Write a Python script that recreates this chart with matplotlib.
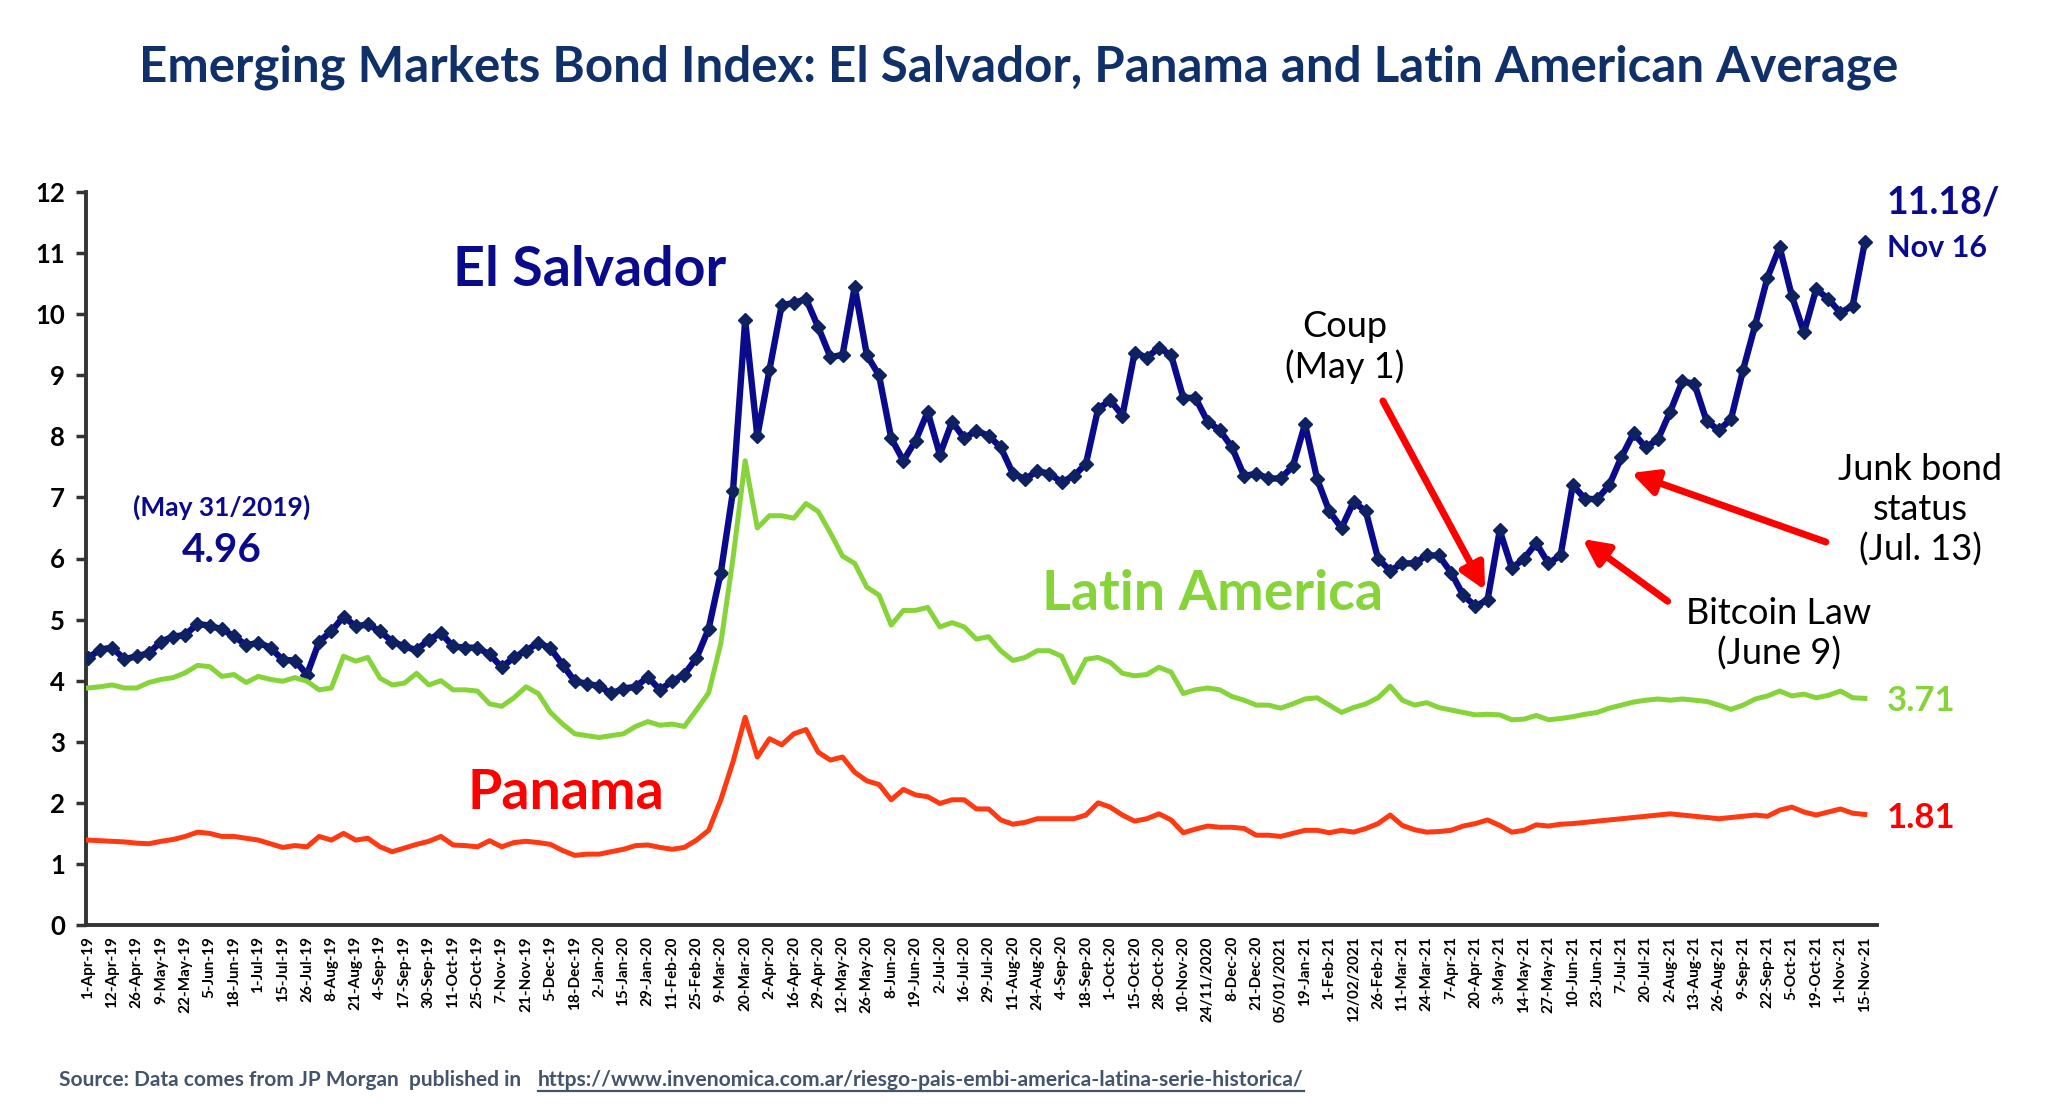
import numpy as np
import matplotlib
matplotlib.use("Agg")
import matplotlib.pyplot as plt

tick_labels = [
    "1-Apr-19", "12-Apr-19", "26-Apr-19", "9-May-19", "22-May-19", "5-Jun-19", "18-Jun-19",
    "1-Jul-19", "15-Jul-19", "26-Jul-19", "8-Aug-19", "21-Aug-19", "4-Sep-19", "17-Sep-19",
    "30-Sep-19", "11-Oct-19", "25-Oct-19", "7-Nov-19", "21-Nov-19", "5-Dec-19", "18-Dec-19",
    "2-Jan-20", "15-Jan-20", "29-Jan-20", "11-Feb-20", "25-Feb-20", "9-Mar-20", "20-Mar-20",
    "2-Apr-20", "16-Apr-20", "29-Apr-20", "12-May-20", "26-May-20", "8-Jun-20", "19-Jun-20",
    "2-Jul-20", "16-Jul-20", "29-Jul-20", "11-Aug-20", "24-Aug-20", "4-Sep-20", "18-Sep-20",
    "1-Oct-20", "15-Oct-20", "28-Oct-20", "10-Nov-20", "24/11/2020", "8-Dec-20", "21-Dec-20",
    "05/01/2021", "19-Jan-21", "1-Feb-21", "12/02/2021", "26-Feb-21", "11-Mar-21", "24-Mar-21",
    "7-Apr-21", "20-Apr-21", "3-May-21", "14-May-21", "27-May-21", "10-Jun-21", "23-Jun-21",
    "7-Jul-21", "20-Jul-21", "2-Aug-21", "13-Aug-21", "26-Aug-21", "9-Sep-21", "22-Sep-21",
    "5-Oct-21", "19-Oct-21", "1-Nov-21", "15-Nov-21",
]

el_salvador = [
    4.37, 4.51, 4.54, 4.35, 4.40, 4.45, 4.64, 4.72, 4.75, 4.93,
    4.90, 4.84, 4.73, 4.58, 4.62, 4.54, 4.34, 4.33, 4.10, 4.64,
    4.81, 5.05, 4.89, 4.92, 4.81, 4.64, 4.56, 4.50, 4.67, 4.78,
    4.56, 4.54, 4.54, 4.43, 4.22, 4.38, 4.49, 4.62, 4.53, 4.26,
    3.99, 3.95, 3.91, 3.79, 3.87, 3.90, 4.06, 3.85, 3.99, 4.10,
    4.37, 4.85, 5.77, 7.10, 9.90, 8.00, 9.09, 10.15, 10.18, 10.25,
    9.79, 9.30, 9.33, 10.45, 9.33, 9.00, 7.97, 7.60, 7.93, 8.40,
    7.70, 8.24, 7.97, 8.09, 8.01, 7.82, 7.39, 7.30, 7.43, 7.39,
    7.25, 7.35, 7.55, 8.45, 8.59, 8.34, 9.37, 9.29, 9.45, 9.33,
    8.63, 8.63, 8.24, 8.10, 7.82, 7.35, 7.39, 7.31, 7.31, 7.51,
    8.20, 7.30, 6.77, 6.50, 6.93, 6.77, 6.00, 5.80, 5.92, 5.92,
    6.05, 6.05, 5.77, 5.40, 5.22, 5.32, 6.46, 5.84, 6.00, 6.25,
    5.92, 6.05, 7.20, 6.98, 6.97, 7.20, 7.66, 8.05, 7.82, 7.95,
    8.40, 8.90, 8.86, 8.25, 8.10, 8.28, 9.09, 9.83, 10.60, 11.10,
    10.30, 9.70, 10.41, 10.25, 10.02, 10.14, 11.18,
]

latin_america = [
    3.88, 3.90, 3.93, 3.88, 3.88, 3.97, 4.02, 4.05, 4.13, 4.25,
    4.23, 4.07, 4.10, 3.97, 4.07, 4.02, 3.99, 4.05, 3.99, 3.85,
    3.88, 4.40, 4.32, 4.38, 4.04, 3.93, 3.96, 4.12, 3.93, 4.00,
    3.85, 3.85, 3.83, 3.62, 3.58, 3.72, 3.90, 3.79, 3.48, 3.29,
    3.13, 3.10, 3.07, 3.10, 3.13, 3.25, 3.33, 3.27, 3.29, 3.25,
    3.52, 3.80, 4.61, 6.00, 7.60, 6.50, 6.70, 6.70, 6.66, 6.90,
    6.77, 6.42, 6.04, 5.92, 5.53, 5.40, 4.91, 5.15, 5.15, 5.20,
    4.88, 4.95, 4.88, 4.68, 4.72, 4.49, 4.33, 4.38, 4.49, 4.49,
    4.40, 3.97, 4.35, 4.38, 4.30, 4.12, 4.08, 4.10, 4.22, 4.14,
    3.79, 3.85, 3.88, 3.85, 3.74, 3.68, 3.60, 3.60, 3.55, 3.62,
    3.70, 3.72, 3.60, 3.48, 3.56, 3.62, 3.72, 3.91, 3.68, 3.60,
    3.64, 3.56, 3.52, 3.48, 3.44, 3.45, 3.44, 3.36, 3.37, 3.43,
    3.36, 3.38, 3.41, 3.45, 3.48, 3.55, 3.60, 3.65, 3.68, 3.70,
    3.68, 3.70, 3.68, 3.66, 3.60, 3.53, 3.60, 3.70, 3.75, 3.83,
    3.75, 3.78, 3.72, 3.76, 3.83, 3.72, 3.71,
]

panama = [
    1.39, 1.38, 1.37, 1.36, 1.34, 1.33, 1.37, 1.40, 1.45, 1.52,
    1.50, 1.45, 1.45, 1.42, 1.39, 1.33, 1.27, 1.30, 1.28, 1.45,
    1.39, 1.50, 1.39, 1.42, 1.28, 1.20, 1.26, 1.32, 1.37, 1.45,
    1.31, 1.30, 1.28, 1.38, 1.28, 1.35, 1.37, 1.35, 1.32, 1.22,
    1.14, 1.16, 1.16, 1.20, 1.24, 1.30, 1.31, 1.27, 1.24, 1.27,
    1.39, 1.55, 2.05, 2.67, 3.40, 2.75, 3.05, 2.95, 3.13, 3.20,
    2.83, 2.70, 2.75, 2.50, 2.36, 2.30, 2.05, 2.22, 2.13, 2.10,
    1.99, 2.05, 2.05, 1.90, 1.90, 1.72, 1.65, 1.68, 1.74, 1.74,
    1.74, 1.74, 1.80, 2.00, 1.93, 1.80, 1.70, 1.74, 1.82, 1.72,
    1.51, 1.57, 1.62, 1.60, 1.60, 1.58, 1.47, 1.47, 1.45, 1.50,
    1.55, 1.55, 1.51, 1.55, 1.52, 1.58, 1.66, 1.80, 1.63, 1.56,
    1.52, 1.53, 1.55, 1.62, 1.66, 1.72, 1.63, 1.52, 1.55, 1.64,
    1.62, 1.65, 1.66, 1.68, 1.70, 1.72, 1.74, 1.76, 1.78, 1.80,
    1.82, 1.80, 1.78, 1.76, 1.74, 1.76, 1.78, 1.80, 1.78, 1.88,
    1.93, 1.85, 1.80, 1.85, 1.90, 1.83, 1.81,
]

y_ticks = list(range(0, 13))

# ---------------- styling -------------
FONT = ["Lato", "DejaVu Sans"]
plt.rcParams["font.family"] = FONT

NAVY = "#0A0A8C"
NAVY_MK = "#0E2262"
GREEN = "#86D43A"
RED_LINE = "#FF3A12"
RED = "#FF0000"
TITLE = "#10306A"
SPINE = "#333333"

W, H = 2048, 1106
fig = plt.figure(figsize=(W / 100, H / 100), dpi=100)
ax = fig.add_axes([86 / W, (H - 925) / H, (1877 - 86) / W, (925 - 192) / H])

x = np.arange(len(el_salvador)) / 2.0

ax.plot(x, el_salvador, color=NAVY, lw=4.6, marker="D", ms=7,
        mfc=NAVY_MK, mec=NAVY_MK, zorder=3, solid_joinstyle="round")
ax.plot(x, latin_america, color=GREEN, lw=3.6, zorder=4, solid_joinstyle="round")
ax.plot(x, panama, color=RED_LINE, lw=3.6, zorder=4, solid_joinstyle="round")

ax.set_xlim(-0.08, 73.5)
ax.set_ylim(0, 12)
ax.set_yticks(y_ticks)
ax.set_yticklabels([str(v) for v in y_ticks], fontsize=18.5, fontweight="bold")
ax.set_xticks(np.arange(len(tick_labels)))
ax.set_xticklabels(tick_labels, rotation=90, fontsize=11, fontweight="bold")
ax.tick_params(axis="x", length=0, pad=8)
ax.tick_params(axis="y", direction="out", length=7, width=2.5, color=SPINE, pad=8)

for s in ["top", "right"]:
    ax.spines[s].set_visible(False)
for s in ["left", "bottom"]:
    ax.spines[s].set_linewidth(2.8)
    ax.spines[s].set_color(SPINE)

# ---------------- texts -------------
def ftext(px, py, s, **kw):
    return fig.text(px / W, 1 - py / H, s, **kw)

ftext(1019, 67, "Emerging Markets Bond Index: El Salvador, Panama and Latin American Average",
      ha="center", va="center", fontsize=35.5, fontweight="bold", color=TITLE)

ftext(590, 270, "El Salvador", ha="center", va="center", fontsize=40, fontweight="bold", color=NAVY)
ftext(1212, 594, "Latin America", ha="center", va="center", fontsize=40, fontweight="bold", color=GREEN)
ftext(566, 793, "Panama", ha="center", va="center", fontsize=40, fontweight="bold", color=RED)

ftext(222, 507, "(May 31/2019)", ha="center", va="center", fontsize=19, fontweight="bold", color=NAVY)
ftext(222, 551, "4.96", ha="center", va="center", fontsize=29, fontweight="bold", color=NAVY)

ftext(1887, 202, "11.18/", ha="left", va="center", fontsize=27, fontweight="bold", color=NAVY)
ftext(1887, 248, "Nov 16", ha="left", va="center", fontsize=22, fontweight="bold", color=NAVY)
ftext(1887, 701, "3.71", ha="left", va="center", fontsize=25, fontweight="bold", color=GREEN)
ftext(1887, 818, "1.81", ha="left", va="center", fontsize=25, fontweight="bold", color=RED)

ftext(1345, 347, "Coup\n(May 1)", ha="center", va="center", fontsize=26, color="black",
      linespacing=1.25)
ftext(1920, 510, "Junk bond\nstatus\n(Jul. 13)", ha="center", va="center", fontsize=26,
      color="black", linespacing=1.25)
ftext(1779, 634, "Bitcoin Law\n(June 9)", ha="center", va="center", fontsize=26,
      color="black", linespacing=1.25)

arrow_kw = dict(arrowstyle="-|>", color="red", lw=5, mutation_scale=38, shrinkA=0, shrinkB=0)
ax.annotate("", xy=(57.4, 5.48), xytext=(53.2, 8.58), arrowprops=arrow_kw, zorder=6)
ax.annotate("", xy=(63.4, 7.40), xytext=(71.4, 6.27), arrowprops=arrow_kw, zorder=6)
ax.annotate("", xy=(61.4, 6.32), xytext=(64.9, 5.30), arrowprops=arrow_kw, zorder=6)

SRC = "#44546A"
ftext(59, 1080, "Source: Data comes from JP Morgan  published in ", ha="left", va="center",
      fontsize=15, fontweight="bold", color=SRC)
url = ftext(538, 1080,
            "https://www.invenomica.com.ar/riesgo-pais-embi-america-latina-serie-historica/",
            ha="left", va="center", fontsize=15.2, fontweight="bold", color=SRC)
# underline for the link, matched to the text extent
fig.canvas.draw()
bb = url.get_window_extent(renderer=fig.canvas.get_renderer())
fig.add_artist(plt.Line2D([bb.x0 / W, bb.x1 / W], [1 - 1091 / H, 1 - 1091 / H],
                          color=SRC, lw=1.6))

fig.savefig("out.png", dpi=100, facecolor="white")
